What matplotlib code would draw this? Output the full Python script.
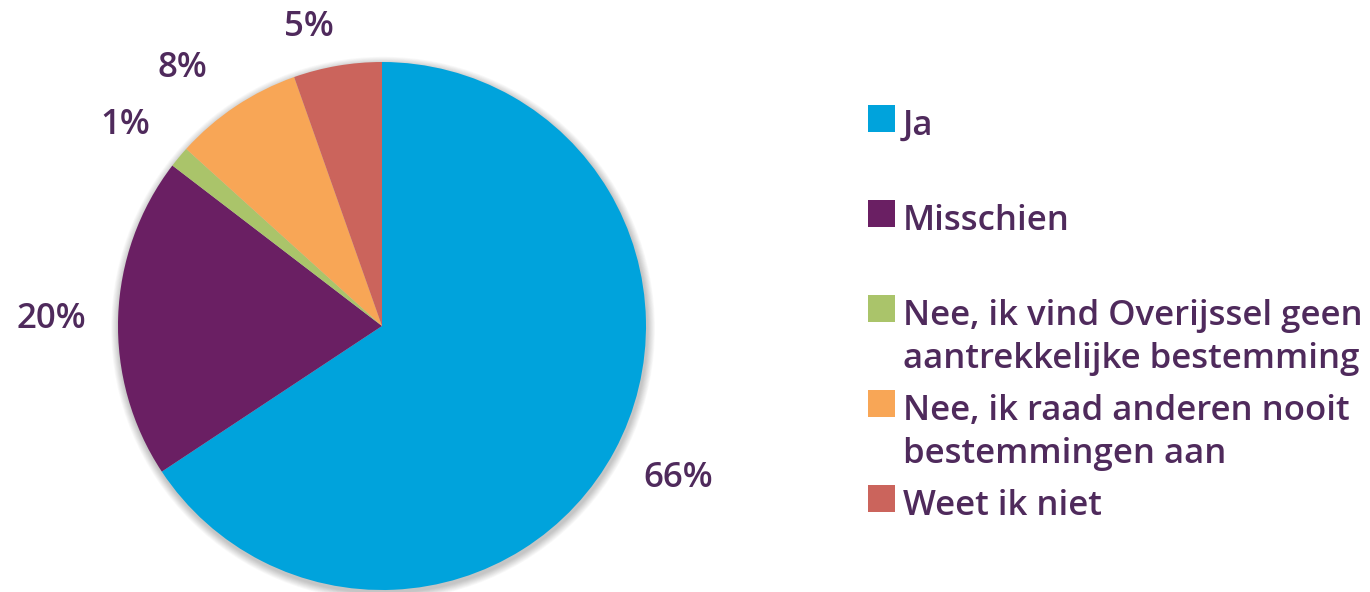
import numpy as np
import matplotlib
matplotlib.use("Agg")
import matplotlib.pyplot as plt
from matplotlib.patches import Rectangle, Circle

categories = ["Ja", "Misschien",
              "Nee, ik vind Overijssel geen\naantrekkelijke bestemming",
              "Nee, ik raad anderen nooit\nbestemmingen aan",
              "Weet ik niet"]
values = [65.7, 19.7, 1.3, 7.9, 5.4]
colors = ["#00A3DC", "#6A1F63", "#AAC46A", "#F8A656", "#CB645C"]

W, H = 1370, 592
TEXT = "#4F2A5C"
plt.rcParams['font.family'] = ['Open Sans', 'DejaVu Sans']
FS = 25
WEIGHT = "semibold"

fig = plt.figure(figsize=(W / 100, H / 100), dpi=100)
fig.patch.set_facecolor("white")

cx, cy, r = 382, 326, 264
ax = fig.add_axes([(cx - r) / W, (H - cy - r) / H, 2 * r / W, 2 * r / H])

# soft shadow
for k in range(10):
    rad = 1.0 + 0.003 * (10 - k)
    ax.add_patch(Circle((0.004, -0.010), rad, facecolor="black", alpha=0.025,
                        edgecolor="none", clip_on=False, zorder=0))

wedges, texts, autotexts = ax.pie(
    values, colors=colors, startangle=90, counterclock=False,
    radius=1, autopct=lambda p: f"{p:.0f}%", pctdistance=1.24,
    wedgeprops=dict(edgecolor="none", linewidth=0, zorder=2),
    textprops=dict(fontsize=FS, color=TEXT, weight=WEIGHT))

# label placement (distance in radii, angular shift in degrees)
label_dist = [1.26, 1.254, 1.235, 1.236, 1.166]
label_shift = [1.0, 0.8, 1.8, 4.1, 4.0]
for w, t, d, s in zip(wedges, autotexts, label_dist, label_shift):
    ang = np.deg2rad((w.theta1 + w.theta2) / 2 + s)
    t.set_position((d * np.cos(ang), d * np.sin(ang)))

ax.set_xlim(-1, 1)
ax.set_ylim(-1, 1)
ax.axis("off")

# legend drawn manually
first_base = 135
stride = 95
line_gap = 43
for i, (lab, col) in enumerate(zip(categories, colors)):
    base = first_base + i * stride
    fig.patches.append(Rectangle((868 / W, (H - base + 3) / H), 27 / W, 27 / H,
                                 transform=fig.transFigure, facecolor=col,
                                 edgecolor="none"))
    for j, line in enumerate(lab.split("\n")):
        fig.text(903 / W, (H - base - j * line_gap) / H, line, fontsize=FS,
                 color=TEXT, weight=WEIGHT, ha="left", va="baseline")

fig.savefig("out.png", dpi=100, facecolor="white")
